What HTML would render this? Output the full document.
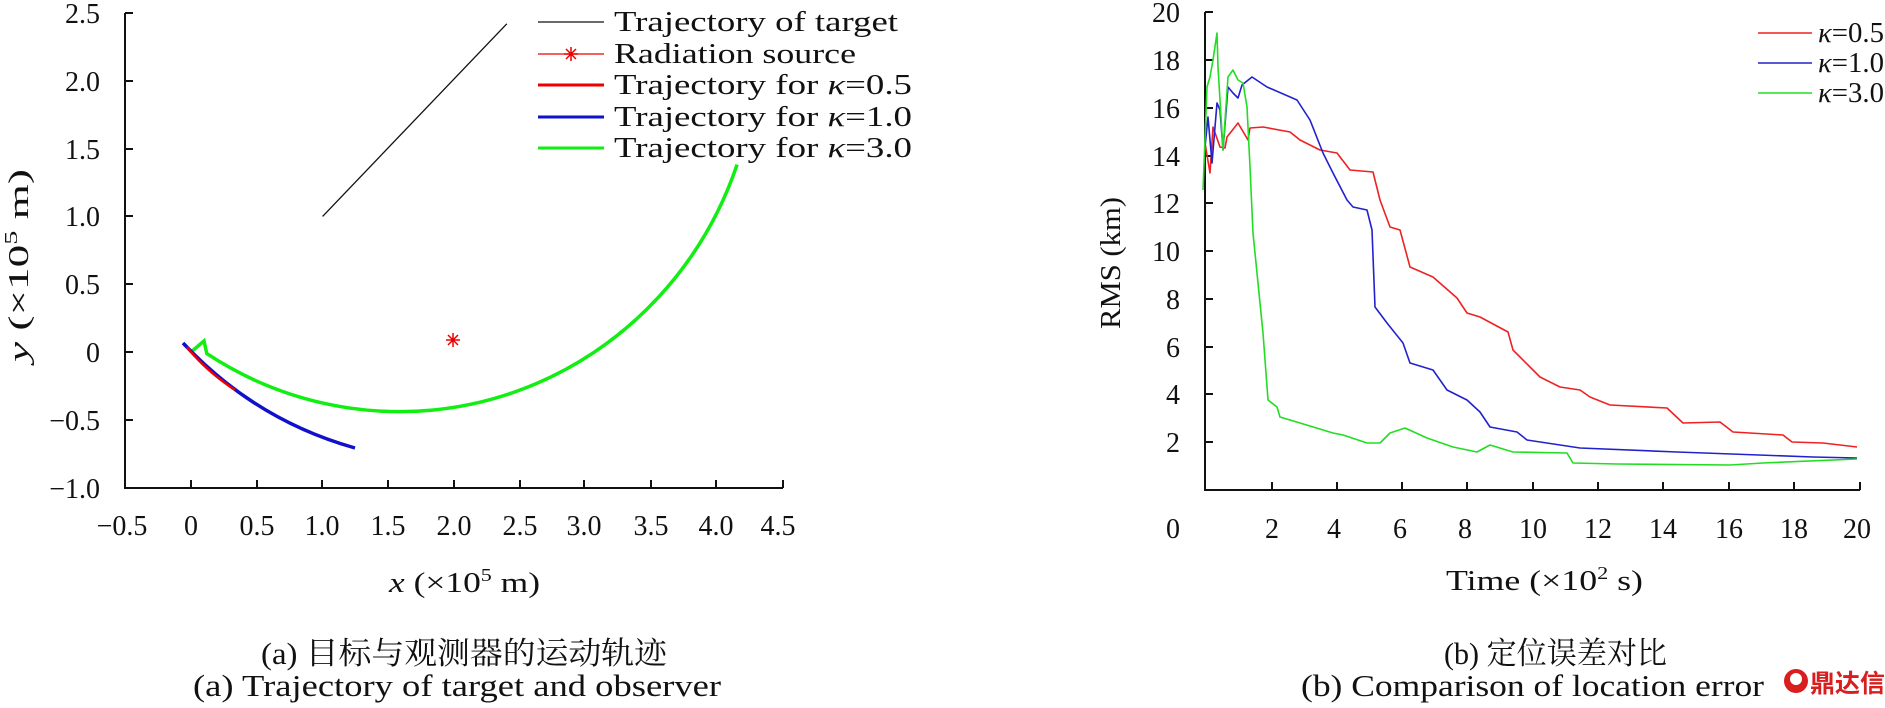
<!DOCTYPE html>
<html><head><meta charset="utf-8"><style>
html,body{margin:0;padding:0;background:#fff}
svg text{font-family:"Liberation Serif","Noto Serif CJK SC","Noto Sans CJK SC",serif;fill:#111}
</style></head><body>
<svg width="1885" height="703" viewBox="0 0 1885 703" xmlns="http://www.w3.org/2000/svg">
<!-- LEFT PLOT -->
<g stroke="#111" stroke-width="2" fill="none">
<path d="M125,13 V488 H783"/>
<path d="M125,13h8M125,81h8M125,149h8M125,216h8M125,284h8M125,352h8M125,420h8"/>
<path d="M191,488v-8M257,488v-8M322,488v-8M388,488v-8M454,488v-8M520,488v-8M584,488v-8M651,488v-8M716,488v-8M783,488v-8"/>
</g>
<g font-size="28" text-anchor="end">
<text x="100" y="23">2.5</text><text x="100" y="91">2.0</text><text x="100" y="159">1.5</text>
<text x="100" y="226">1.0</text><text x="100" y="294">0.5</text><text x="100" y="362">0</text>
<text x="100" y="430">−0.5</text><text x="100" y="498">−1.0</text>
</g>
<g font-size="28" text-anchor="middle">
<text x="122" y="535">−0.5</text><text x="191" y="535">0</text><text x="257" y="535">0.5</text>
<text x="322" y="535">1.0</text><text x="388" y="535">1.5</text><text x="454" y="535">2.0</text>
<text x="520" y="535">2.5</text><text x="584" y="535">3.0</text><text x="651" y="535">3.5</text>
<text x="716" y="535">4.0</text><text x="778" y="535">4.5</text>
</g>
<text x="389" y="592" font-size="29" textLength="151" lengthAdjust="spacingAndGlyphs"><tspan font-style="italic">x</tspan> (×10<tspan font-size="18" dy="-11">5</tspan><tspan dy="11"> m)</tspan></text>
<text transform="translate(28,362) rotate(-90)" font-size="29" textLength="193" lengthAdjust="spacingAndGlyphs"><tspan font-style="italic">y</tspan> (×10<tspan font-size="18" dy="-11">5</tspan><tspan dy="11"> m)</tspan></text>
<!-- data left -->
<path d="M322.6,216.4 L506.8,23.8" stroke="#111" stroke-width="1.3" fill="none"/>
<g stroke="#e00" stroke-width="1.5"><path d="M453,333v14M446,340h14M448,335l10,10M458,335l-10,10"/></g>
<path d="M191,352 L204,341 L206.8,353.6 A357.6,368.4 0 0 0 737.1,164.6" stroke="#1e1" stroke-width="3.5" fill="none"/>
<path d="M183,343 Q255,420 355,448" stroke="#11c" stroke-width="3.5" fill="none"/>
<path d="M187,347 Q205,370 235,390" stroke="#e00" stroke-width="2.5" fill="none"/>
<!-- left legend -->
<g font-size="29">
<line x1="538" y1="22" x2="604" y2="22" stroke="#111" stroke-width="1.3"/>
<text x="614" y="31" textLength="284" lengthAdjust="spacingAndGlyphs">Trajectory of target</text>
<line x1="538" y1="54" x2="604" y2="54" stroke="#e00" stroke-width="1.3"/>
<g stroke="#e00" stroke-width="1.5"><path d="M571,47v14M564,54h14M566,49l10,10M576,49l-10,10"/></g>
<text x="614" y="63" textLength="242" lengthAdjust="spacingAndGlyphs">Radiation source</text>
<line x1="538" y1="85" x2="604" y2="85" stroke="#e00" stroke-width="3"/>
<text x="614" y="94" textLength="298" lengthAdjust="spacingAndGlyphs">Trajectory for <tspan font-style="italic">κ</tspan>=0.5</text>
<line x1="538" y1="117" x2="604" y2="117" stroke="#11c" stroke-width="3"/>
<text x="614" y="126" textLength="298" lengthAdjust="spacingAndGlyphs">Trajectory for <tspan font-style="italic">κ</tspan>=1.0</text>
<line x1="538" y1="148" x2="604" y2="148" stroke="#1e1" stroke-width="3"/>
<text x="614" y="157" textLength="298" lengthAdjust="spacingAndGlyphs">Trajectory for <tspan font-style="italic">κ</tspan>=3.0</text>
</g>
<text x="261" y="664" font-size="31" textLength="406" lengthAdjust="spacingAndGlyphs">(a) 目标与观测器的运动轨迹</text>
<text x="193" y="696" font-size="31" textLength="528" lengthAdjust="spacingAndGlyphs">(a) Trajectory of target and observer</text>

<!-- RIGHT PLOT -->
<g stroke="#111" stroke-width="2" fill="none">
<path d="M1205,12 V490 H1860"/>
<path d="M1205,12h8M1205,60h8M1205,108h8M1205,156h8M1205,203h8M1205,251h8M1205,299h8M1205,347h8M1205,394h8M1205,442h8"/>
<path d="M1272,490v-8M1337,490v-8M1402,490v-8M1467,490v-8M1533,490v-8M1598,490v-8M1663,490v-8M1729,490v-8M1794,490v-8M1860,490v-8"/>
</g>
<g font-size="28" text-anchor="end">
<text x="1180" y="22">20</text><text x="1180" y="70">18</text><text x="1180" y="118">16</text>
<text x="1180" y="166">14</text><text x="1180" y="213">12</text><text x="1180" y="261">10</text>
<text x="1180" y="309">8</text><text x="1180" y="357">6</text><text x="1180" y="404">4</text>
<text x="1180" y="452">2</text>
</g>
<g font-size="28" text-anchor="middle">
<text x="1173" y="538">0</text><text x="1272" y="538">2</text><text x="1334" y="538">4</text>
<text x="1400" y="538">6</text><text x="1465" y="538">8</text><text x="1533" y="538">10</text>
<text x="1598" y="538">12</text><text x="1663" y="538">14</text><text x="1729" y="538">16</text>
<text x="1794" y="538">18</text><text x="1857" y="538">20</text>
</g>
<text x="1446" y="590" font-size="29" textLength="197" lengthAdjust="spacingAndGlyphs">Time (×10<tspan font-size="18" dy="-11">2</tspan><tspan dy="11"> s)</tspan></text>
<text transform="translate(1120,329) rotate(-90)" font-size="29" textLength="132" lengthAdjust="spacingAndGlyphs">RMS (km)</text>
<g fill="none" stroke-width="1.6" stroke-linejoin="round">
<polyline stroke="#e22" points="1205,143 1210,173 1213,127 1220,147 1225,148 1227,137 1238,123 1248,140 1250,128 1263,127 1290,132 1300,140 1320,150 1337,153 1350,170 1373,172 1380,200 1390,227 1400,230 1410,267 1433,277 1457,298 1467,313 1480,317 1508,332 1513,350 1540,377 1560,387 1580,390 1590,397 1610,405 1667,408 1683,423 1720,422 1733,432 1783,435 1792,442 1823,443 1857,447"/>
<polyline stroke="#22c" points="1205,147 1208,117 1212,163 1217,103 1220,110 1223,150 1228,87 1233,93 1238,98 1242,85 1252,77 1267,87 1297,100 1310,120 1323,153 1333,173 1347,200 1353,207 1367,210 1372,230 1375,307 1387,323 1403,343 1410,363 1433,370 1447,390 1467,400 1480,412 1490,427 1517,432 1527,440 1580,448 1677,452 1813,457 1857,458"/>
<polyline stroke="#2d2" points="1203,190 1207,87 1210,77 1213,60 1217,33 1218,67 1220,100 1223,150 1228,77 1233,70 1238,80 1243,83 1247,107 1250,167 1253,233 1263,333 1268,400 1277,407 1280,417 1300,423 1333,433 1343,435 1367,443 1380,443 1390,433 1405,428 1427,438 1453,447 1477,452 1490,445 1513,452 1567,453 1573,463 1617,464 1730,465 1763,463 1857,459"/>
</g>
<g font-size="29">
<line x1="1758" y1="33" x2="1812" y2="33" stroke="#e22" stroke-width="1.6"/>
<text x="1818" y="42" textLength="66" lengthAdjust="spacingAndGlyphs"><tspan font-style="italic">κ</tspan>=0.5</text>
<line x1="1758" y1="63" x2="1812" y2="63" stroke="#22c" stroke-width="1.6"/>
<text x="1818" y="72" textLength="66" lengthAdjust="spacingAndGlyphs"><tspan font-style="italic">κ</tspan>=1.0</text>
<line x1="1758" y1="93" x2="1812" y2="93" stroke="#2d2" stroke-width="1.6"/>
<text x="1818" y="102" textLength="66" lengthAdjust="spacingAndGlyphs"><tspan font-style="italic">κ</tspan>=3.0</text>
</g>
<text x="1444" y="664" font-size="31" textLength="223" lengthAdjust="spacingAndGlyphs">(b) 定位误差对比</text>
<text x="1301" y="696" font-size="31" textLength="463" lengthAdjust="spacingAndGlyphs">(b) Comparison of location error</text>
<!-- logo -->
<circle cx="1796" cy="681" r="12" fill="#d81e1e"/>
<circle cx="1796" cy="679" r="6" fill="#fff"/>
<text x="1810" y="692" font-size="25" font-weight="bold" style="fill:#d81e1e;font-family:'Noto Sans CJK SC',sans-serif">鼎达信</text>
</svg>
</body></html>
